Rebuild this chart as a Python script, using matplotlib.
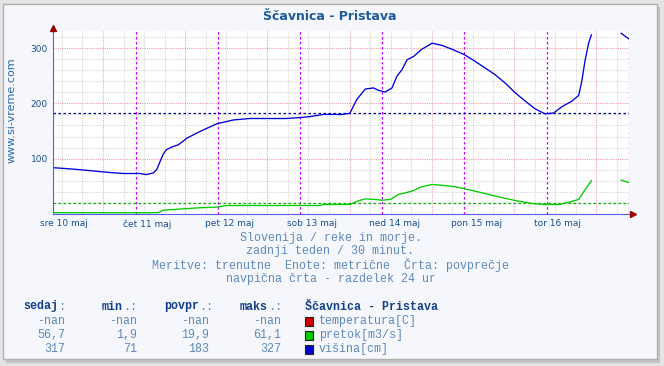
import numpy as np
import matplotlib
matplotlib.use("Agg")
import matplotlib.pyplot as plt
from matplotlib.patches import Rectangle
from matplotlib.transforms import ScaledTranslation

# ---------------- data (hours since sre 10 maj 00:00) ----------------
day_labels = ["sre 10 maj", "čet 11 maj", "pet 12 maj", "sob 13 maj",
              "ned 14 maj", "pon 15 maj", "tor 16 maj"]

visina_h = [0, 5.8, 12.7, 16.1, 20.4, 25.3, 27.1, 29.2, 30.2, 31.2, 32.1, 33.0,
            34.6, 36.5, 38.0, 39.0, 42.8, 47.7, 52.6, 57.4, 68.1, 72.0, 74.9,
            78.8, 82.7, 83.7, 86.6, 88.6, 91.1, 93.5, 95.0, 96.9, 98.9, 100.3,
            101.8, 103.3, 105.2, 107.6, 110.6, 113.5, 116.4, 120.1, 123.2,
            126.1, 129.0, 131.9, 134.9, 137.8, 140.7, 143.6, 146.1, 148.5,
            151.4, 153.4, 154.3, 155.3, 156.3, 157.1, 157.5, 165.8, 168.0]
visina_v = [83.5, 81, 77, 75, 73, 73, 71, 74, 80, 95, 108, 116,
            121, 125, 132, 137, 149, 163, 170, 172.6, 172.6, 174.3, 176,
            180, 180, 179.6, 182, 207, 226, 228, 223.5, 220.6, 228, 249,
            261, 279, 285, 298, 309, 305, 298, 288, 276,
            264, 252, 237, 219, 204, 190, 181, 182.6, 194,
            204, 214.5, 240, 279, 309, 324, np.nan, 327, 317]

pretok_h = [0, 13.6, 28.2, 30.7, 32.1, 38.0, 42.8, 47.7, 50.6, 57.4, 72.0,
            77.9, 78.8, 86.7, 88.7, 91.1, 94.0, 96.0, 98.4, 100.8, 104.7,
            107.6, 110.6, 113.5, 117.4, 120.3, 125.2, 130.0, 134.9, 139.8,
            143.6, 147.6, 150.5, 153.4, 155.3, 157.1, 157.5, 165.8, 168.0]
pretok_v = [2.0, 1.9, 1.9, 2.2, 6.5, 9, 11, 12, 15, 15, 15,
            15, 16.8, 17, 22.8, 27, 25.9, 24.6, 26, 35, 41,
            49, 53, 51.7, 49, 45, 38, 30.7, 24, 18.6,
            16.8, 16.8, 21, 26, 44, 60, np.nan, 61.1, 56.7]

avg_visina = 183
avg_pretok = 19.9

stat_headers = ["sedaj:", "min.:", "povpr.:", "maks.:"]
stat_rows = [["-nan", "-nan", "-nan", "-nan"],
             ["56,7", "1,9", "19,9", "61,1"],
             ["317", "71", "183", "327"]]
legend_title = "Ščavnica - Pristava"
legend_labels = ["temperatura[C]", "pretok[m3/s]", "višina[cm]"]
legend_colors = ["#cc0000", "#00cc00", "#0000cc"]

info_lines = ["Slovenija / reke in morje.",
              "zadnji teden / 30 minut.",
              "Meritve: trenutne  Enote: metrične  Črta: povprečje",
              "navpična črta - razdelek 24 ur"]

# ---------------- figure ----------------
W, H = 664, 366
fig = plt.figure(figsize=(W / 100, H / 100), dpi=100, facecolor="#e4e4e4")

def px(x, y):
    return x / W, 1 - y / H

# panel with shadow
fig.patches.append(Rectangle(px(6, 363), 654 / W, 356 / H, transform=fig.transFigure,
                             facecolor="#c4c4c4", edgecolor="none", zorder=-2))
fig.patches.append(Rectangle(px(3, 359), 654 / W, 355 / H, transform=fig.transFigure,
                             facecolor="#f5f7fc", edgecolor="#b0b0b0", lw=1.0, zorder=-1))

ax_l, ax_r, ax_b, ax_t = 53.3, 628.7, 213.8, 30.5
ax = fig.add_axes([ax_l / W, 1 - ax_b / H, (ax_r - ax_l) / W, (ax_b - ax_t) / H])
ax.set_zorder(2)
ax.set_facecolor("white")
ax.set_xlim(0, 168)
ax.set_ylim(0, 332)

# grid
for k in range(28):
    xg = 2.5 + 6 * k
    if xg >= 168:
        break
    col = "#f0a8b8" if k % 4 == 2 else "#d8d8d8"
    ax.axvline(xg, color=col, lw=0.8, ls=(0, (1, 1)), zorder=1)
for yv in range(20, 332, 20):
    col = "#f0a0a8" if yv % 100 == 0 else "#d8d8d8"
    ax.axhline(yv, color=col, lw=0.8, ls=(0, (1, 1)), zorder=1)
for d in range(1, 8):
    ax.axvline(24 * d, color="#cc00ff", lw=0.9, ls=(0, (2, 2)), zorder=2)

# averages
ax.axhline(avg_visina, color="#0000a0", lw=0.9, ls=(0, (2, 2)), zorder=3)
ax.axhline(avg_pretok, color="#00b000", lw=0.9, ls=(0, (2, 2)), zorder=3)

# series
ax.plot(pretok_h, pretok_v, color="#00cc00", lw=0.95, zorder=4)
ax.plot(visina_h, visina_v, color="#0000dd", lw=0.95, zorder=4)

# spines / arrows
for s in ["top", "right"]:
    ax.spines[s].set_visible(False)
ax.spines["left"].set_color("#5a5aee")
ax.spines["bottom"].set_color("#5a5aee")
ax.spines["left"].set_zorder(5)
ax.spines["bottom"].set_zorder(5)
ax.plot([0], [1.015], marker="^", color="#990000", ms=4, transform=ax.transAxes,
        clip_on=False, zorder=6)
ax.plot([1.008], [0], marker=">", color="#990000", ms=4, transform=ax.transAxes,
        clip_on=False, zorder=6)

# ticks
ax.set_yticks([100, 200, 300])
ax.tick_params(axis="y", length=0, pad=4, labelsize=6.5, labelcolor="#1a4f8f")
ax.set_xticks([24 * i for i in range(7)])
ax.set_xticklabels(day_labels)
ax.tick_params(axis="x", length=0, pad=4, labelsize=6.5, labelcolor="#1a4f8f")
off = ScaledTranslation(-13 / 100, 0, fig.dpi_scale_trans)
for lab in ax.get_xticklabels():
    lab.set_horizontalalignment("left")
    lab.set_transform(lab.get_transform() + off)

# title & watermark
fig.text(*px(330, 17), "Ščavnica - Pristava", ha="center", va="center",
         fontsize=9, fontweight="bold", color="#1f5a9c")
fig.text(*px(12, 110), "www.si-vreme.com", ha="center", va="center",
         rotation=90, fontsize=8, color="#2a66aa")

# info lines
mono = "Liberation Mono"
light = "#6089bb"
dark = "#14408a"
for i, line in enumerate(info_lines):
    fig.text(*px(330.5, 237.5 + 13.7 * i), line, ha="center", va="center",
             fontsize=8.4, family=mono, color=light)

# stats table
head_right = [65, 137, 213, 282]
val_right = [65, 137, 209, 281]
cw = 7.0
for j, h in enumerate(stat_headers):
    word = h.rstrip(".:")
    punct = h[len(word):]
    fig.text(*px(head_right[j] - cw * len(punct), 306.5), word, ha="right", va="center",
             fontsize=8.4, family=mono, fontweight="bold", color=dark)
    fig.text(*px(head_right[j], 306.5), punct, ha="right", va="center",
             fontsize=8.4, family=mono, color=light)
for i, row in enumerate(stat_rows):
    for j, v in enumerate(row):
        fig.text(*px(val_right[j], 321 + 14 * i), v, ha="right", va="center",
                 fontsize=8.4, family=mono, color=light)

fig.text(*px(305, 306.5), legend_title, ha="left", va="center",
         fontsize=8.4, family=mono, fontweight="bold", color=dark)
for i, (lab, c) in enumerate(zip(legend_labels, legend_colors)):
    yc = 321 + 14 * i
    fig.patches.append(Rectangle(px(305, yc + 4.5), 8 / W, 9 / H, transform=fig.transFigure,
                                 facecolor=c, edgecolor="#202020", lw=0.8, zorder=3))
    fig.text(*px(319, yc), lab, ha="left", va="center",
             fontsize=8.4, family=mono, color=light)

fig.savefig("out.png", dpi=100, facecolor=fig.get_facecolor())
